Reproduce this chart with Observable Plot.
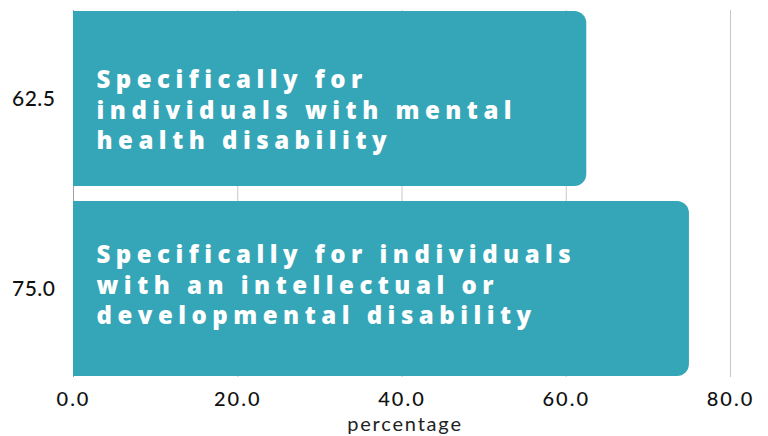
<!DOCTYPE html>
<html>
<head>
<meta charset="utf-8">
<script src="https://cdn.jsdelivr.net/npm/d3@7"></script>
<script src="https://cdn.jsdelivr.net/npm/@observablehq/plot@0.6"></script>
<style>
  html, body { margin: 0; padding: 0; background: #fff; }
  g.barlabel text { letter-spacing: 5.5px; }
  g[aria-label="x-axis tick label"] text { letter-spacing: 2px; font-weight: 500; }
  g[aria-label="y-axis tick label"] text { letter-spacing: 0.5px; font-weight: 500; }
  g.xlabel text { letter-spacing: 1.8px; }
</style>
</head>
<body>
<div id="chart"></div>
<script>
// Data
const categories = [
  "Specifically for\nindividuals with mental\nhealth disability",
  "Specifically for individuals\nwith an intellectual or\ndevelopmental disability"
];
const values = [62.5, 75.0];
const yTickLabels = ["62.5", "75.0"];
const xTicks = [0, 20, 40, 60, 80];
const xLabel = "percentage";

const data = categories.map((c, i) => ({label: c, value: values[i], y: yTickLabels[i]}));

const teal = "#35a6b7";
const labelFont = {fill: "white", fontSize: 24, fontWeight: 800, lineHeight: 1.26,
  fontFamily: "'Open Sans', sans-serif", className: "barlabel", textAnchor: "start", dx: 23};

const chart = Plot.plot({
  width: 768,
  height: 436,
  marginLeft: 73,
  marginRight: 38,
  marginTop: 10,
  marginBottom: 59,
  style: {background: "#fff", fontFamily: "Lato, sans-serif", color: "#111"},
  x: {domain: [0, 80]},
  y: {domain: yTickLabels, paddingInner: 0.0785, paddingOuter: 0},
  marks: [
    Plot.gridX(xTicks, {stroke: "#c8c8c8", strokeOpacity: 1}),
    Plot.ruleX([0], {stroke: "#a0a0a0"}),
    Plot.barX(data, {x: "value", y: "y", fill: teal, rx: 12}),
    Plot.barX(data, {x: "value", y: "y", fill: teal, insetRight: 14}),
    Plot.text([data[0]], {x: 0, y: "y", text: "label", dy: 10, ...labelFont}),
    Plot.text([data[1]], {x: 0, y: "y", text: "label", dy: -5, ...labelFont}),
    Plot.axisX({ticks: xTicks, tickFormat: d => d.toFixed(1), tickSize: 0, tickPadding: 14, fontSize: 20, label: null}),
    Plot.axisY({tickSize: 0, tickPadding: 18, fontSize: 21, label: null}),
    Plot.text([xLabel], {frameAnchor: "bottom", dy: 53, dx: 3, text: d => d, fontSize: 20, fill: "#222", className: "xlabel"})
  ]
});
document.getElementById("chart").appendChild(chart);
</script>
</body>
</html>
